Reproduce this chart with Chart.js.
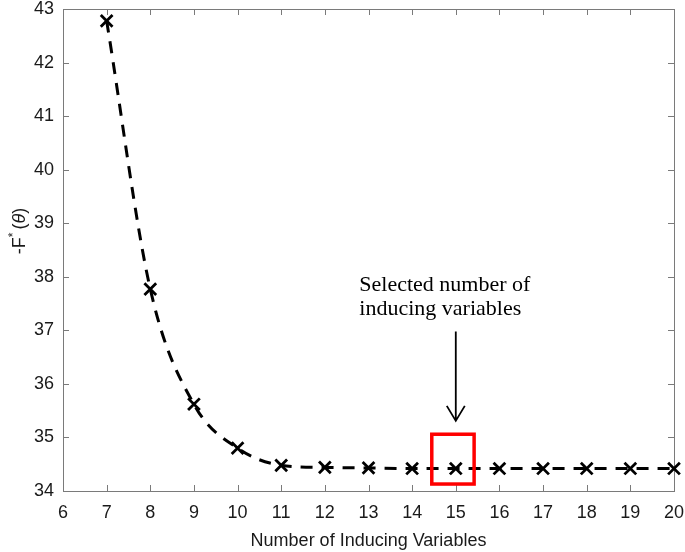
<!DOCTYPE html>
<html>
<head>
<meta charset="utf-8">
<script src="https://cdn.jsdelivr.net/npm/chart.js@4/dist/chart.umd.min.js"></script>
<style>html,body{margin:0;padding:0;background:#fff;}canvas{display:block;}</style>
</head>
<body>
<canvas id="c" width="685" height="552"></canvas>
<script>
// ---- data ----
const inducingVariables = [7, 8, 9, 10, 11, 12, 13, 14, 15, 16, 17, 18, 19, 20];
const negFreeEnergy = [42.78, 37.77, 35.62, 34.80, 34.48, 34.44, 34.43, 34.42, 34.42, 34.42, 34.42, 34.42, 34.42, 34.42];
const xTickRange = [6, 20];
const yTickRange = [34, 43];
const xAxisTitle = "Number of Inducing Variables";
const annotationLines = ["Selected number of", "inducing variables"];
const selectedCount = 15;

// ---- styling / annotation placement (data units) ----
const AXIS_COLOR = '#7a7a7a';
const TEXT_COLOR = '#1a1a1a';
const TICK_FONT = {family: '"Liberation Sans", Arial, sans-serif', size: 18, lineHeight: 1};
const noteLayout = {textX: 12.79, baselines: [37.73, 37.28], arrowFrom: 36.98, arrowTo: 35.31,
                    boxX: [14.45, 15.42], boxY: [34.13, 35.06]};

function zeroPadding(s) { s.paddingTop = 0; s.paddingBottom = 0; s.paddingLeft = 0; s.paddingRight = 0; }

const decor = {
  id: 'decor',
  beforeDatasetsDraw(chart) {
    const {ctx, chartArea: a, scales: {x, y}} = chart;
    ctx.save();
    ctx.strokeStyle = AXIS_COLOR;
    ctx.lineWidth = 1;
    ctx.beginPath();
    ctx.moveTo(Math.round(a.left) + 0.5, Math.round(a.top) + 0.5);
    ctx.lineTo(Math.round(a.right) + 0.5, Math.round(a.top) + 0.5);
    ctx.lineTo(Math.round(a.right) + 0.5, Math.round(a.bottom) + 0.5);
    const tl = 6;
    for (let v = xTickRange[0]; v <= xTickRange[1]; v++) {
      const px = Math.round(x.getPixelForValue(v)) + 0.5;
      ctx.moveTo(px, a.bottom); ctx.lineTo(px, a.bottom - tl);
      ctx.moveTo(px, a.top); ctx.lineTo(px, a.top + tl);
    }
    for (let v = yTickRange[0]; v <= yTickRange[1]; v++) {
      const py = Math.round(y.getPixelForValue(v)) + 0.5;
      ctx.moveTo(a.left, py); ctx.lineTo(a.left + tl, py);
      ctx.moveTo(a.right, py); ctx.lineTo(a.right - tl, py);
    }
    ctx.stroke();
    ctx.restore();
  },
  afterDatasetsDraw(chart) {
    const {ctx, scales: {x, y}} = chart;
    ctx.save();
    const bx0 = x.getPixelForValue(noteLayout.boxX[0]), bx1 = x.getPixelForValue(noteLayout.boxX[1]);
    const by0 = y.getPixelForValue(noteLayout.boxY[1]), by1 = y.getPixelForValue(noteLayout.boxY[0]);
    ctx.strokeStyle = '#ff0000';
    ctx.lineWidth = 3.5;
    ctx.strokeRect(bx0, by0, bx1 - bx0, by1 - by0);
    const ax = x.getPixelForValue(selectedCount);
    const ay0 = y.getPixelForValue(noteLayout.arrowFrom), ay1 = y.getPixelForValue(noteLayout.arrowTo);
    ctx.strokeStyle = '#000';
    ctx.lineWidth = 1.8;
    ctx.beginPath();
    ctx.moveTo(ax, ay0); ctx.lineTo(ax, ay1);
    ctx.moveTo(ax - 9, ay1 - 15); ctx.lineTo(ax, ay1); ctx.lineTo(ax + 9, ay1 - 15);
    ctx.stroke();
    ctx.fillStyle = '#000';
    ctx.font = '22px "Liberation Serif", "Times New Roman", serif';
    ctx.textAlign = 'left';
    ctx.textBaseline = 'alphabetic';
    annotationLines.forEach((t, i) => {
      ctx.fillText(t, x.getPixelForValue(noteLayout.textX), y.getPixelForValue(noteLayout.baselines[i]));
    });
    ctx.restore();
  },
  afterDraw(chart) {
    const {ctx, chartArea: a} = chart;
    ctx.save();
    ctx.fillStyle = TEXT_COLOR;
    ctx.font = '18px "Liberation Sans", Arial, sans-serif';
    ctx.textAlign = 'center';
    ctx.textBaseline = 'alphabetic';
    ctx.fillText(xAxisTitle, (a.left + a.right) / 2, 546);
    ctx.translate(25, 231);
    ctx.rotate(-Math.PI / 2);
    const parts = [
      {t: '-F', f: '18px "Liberation Sans", Arial, sans-serif', dy: 0},
      {t: '*', f: '12px "Liberation Sans", Arial, sans-serif', dy: -8},
      {t: '(', f: '18px "Liberation Sans", Arial, sans-serif', dy: 0},
      {t: '\u03B8', f: 'italic 18px "Liberation Sans", Arial, sans-serif', dy: 0},
      {t: ')', f: '18px "Liberation Sans", Arial, sans-serif', dy: 0}
    ];
    let total = 0;
    parts.forEach(p => { ctx.font = p.f; p.w = ctx.measureText(p.t).width; total += p.w; });
    total += 3;
    let cx = -total / 2;
    ctx.textAlign = 'left';
    parts.forEach((p, i) => {
      ctx.font = p.f;
      ctx.fillText(p.t, cx, p.dy);
      cx += p.w + (i === 1 ? 3 : 0);
    });
    ctx.restore();
  }
};

new Chart(document.getElementById('c').getContext('2d'), {
  type: 'line',
  data: {
    datasets: [{
      data: inducingVariables.map((v, i) => ({x: v, y: negFreeEnergy[i]})),
      borderColor: '#000',
      borderWidth: 3,
      borderDash: [12, 9],
      cubicInterpolationMode: 'monotone',
      pointStyle: 'crossRot',
      pointRadius: 8.3,
      pointBorderWidth: 2.8,
      pointBorderColor: '#000',
      pointBackgroundColor: '#000',
      fill: false,
      clip: false
    }]
  },
  options: {
    responsive: false,
    animation: false,
    devicePixelRatio: 1,
    layout: {autoPadding: false, padding: {top: 9, right: 11, left: 0, bottom: 0}},
    plugins: {legend: {display: false}, tooltip: {enabled: false}, title: {display: false}},
    scales: {
      x: {
        type: 'linear', min: xTickRange[0], max: xTickRange[1],
        ticks: {stepSize: 1, font: TICK_FONT, color: TEXT_COLOR, padding: 13, maxRotation: 0, autoSkip: false},
        grid: {display: false, drawTicks: false},
        border: {display: true, color: AXIS_COLOR, width: 1},
        afterFit(s) { s.height = 61; zeroPadding(s); }
      },
      y: {
        type: 'linear', min: yTickRange[0], max: yTickRange[1],
        ticks: {stepSize: 1, font: TICK_FONT, color: TEXT_COLOR, padding: 9},
        grid: {display: false, drawTicks: false},
        border: {display: true, color: AXIS_COLOR, width: 1},
        afterFit(s) { s.width = 63; zeroPadding(s); }
      }
    }
  },
  plugins: [decor]
});
</script>
</body>
</html>
